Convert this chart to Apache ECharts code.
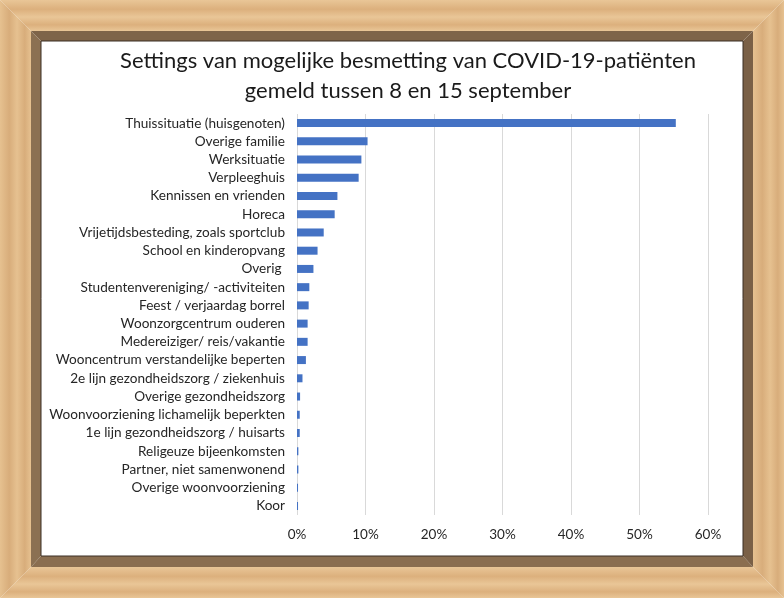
<!DOCTYPE html>
<html><head><meta charset="utf-8">
<script src="https://cdn.jsdelivr.net/npm/echarts@6/dist/echarts.min.js"></script>
<style>html,body{margin:0;padding:0;background:#fff}#c{width:784px;height:598px}</style>
</head><body><div id="c"></div>
<script>
const categories = [
  "Thuissituatie (huisgenoten)","Overige familie","Werksituatie","Verpleeghuis",
  "Kennissen en vrienden","Horeca","Vrijetijdsbesteding, zoals sportclub",
  "School en kinderopvang","Overig ","Studentenvereniging/ -activiteiten",
  "Feest / verjaardag borrel","Woonzorgcentrum ouderen","Medereiziger/ reis/vakantie",
  "Wooncentrum verstandelijke beperten","2e lijn gezondheidszorg / ziekenhuis",
  "Overige gezondheidszorg","Woonvoorziening lichamelijk beperkten",
  "1e lijn gezondheidszorg / huisarts","Religeuze bijeenkomsten",
  "Partner, niet samenwonend","Overige woonvoorziening","Koor"
];
const values = [55.3,10.3,9.4,9.0,5.9,5.5,3.9,3.0,2.4,1.8,1.7,1.55,1.55,1.3,0.8,0.45,0.4,0.4,0.2,0.2,0.15,0.15];
const titleLines = ["Settings van mogelijke besmetting van COVID-19-patiënten","gemeld tussen 8 en 15 september"];

const W = 784, H = 598;
const o = 31, d = 41;
function wood(points, c1, c2, horiz){
  return {type:'polygon', shape:{points}, style:{fill:{type:'linear', x:0,y:0,x2:horiz?1:0,y2:horiz?0:1,
    colorStops:[{offset:0,color:c1},{offset:0.3,color:c2},{offset:0.55,color:c1},{offset:0.8,color:c2},{offset:1,color:c1}]}}, silent:true, z:-10};
}
const frame = [
  wood([[0,0],[W,0],[W-o,o],[o,o]], '#e9c697', '#dcb07d', false),
  wood([[0,H],[W,H],[W-o,H-o],[o,H-o]], '#e9c697', '#dcb07d', false),
  wood([[0,0],[o,o],[o,H-o],[0,H]], '#e6c190', '#d8ad7b', true),
  wood([[W,0],[W-o,o],[W-o,H-o],[W,H]], '#e6c190', '#d8ad7b', true),
  {type:'polygon', shape:{points:[[o,o],[W-o,o],[W-d,d],[d,d]]}, style:{fill:'#7e6449'}, silent:true, z:-9},
  {type:'polygon', shape:{points:[[o,H-o],[W-o,H-o],[W-d,H-d-1],[d,H-d-1]]}, style:{fill:'#8a6e50'}, silent:true, z:-9},
  {type:'polygon', shape:{points:[[o,o],[d,d],[d,H-d-1],[o,H-o]]}, style:{fill:'#8b7052'}, silent:true, z:-9},
  {type:'polygon', shape:{points:[[W-o,o],[W-d,d],[W-d,H-d-1],[W-o,H-o]]}, style:{fill:'#7a6046'}, silent:true, z:-9},
  {type:'rect', shape:{x:d,y:d,width:W-2*d,height:H-2*d-1}, style:{fill:'#ffffff', stroke:'#3b2f24', lineWidth:1}, silent:true, z:-8}
];

const chart = echarts.init(document.getElementById('c'), null, {renderer:'canvas'});
chart.setOption({
  animation:false,
  backgroundColor:'#ffffff',
  graphic: frame.concat([
    {type:'text', x:408, y:46, style:{text:titleLines.join('\n'), fill:'#1a1a1a', font:'22px Lato', textAlign:'center', lineHeight:30}, z:10}
  ]),
  grid:{left:297, right:76, top:114, bottom:83, containLabel:false},
  xAxis:{type:'value', min:0, max:60, interval:10,
    axisLabel:{formatter:'{value}%', color:'#262626', fontFamily:'Lato', fontSize:13.5, margin:13},
    splitLine:{lineStyle:{color:'#d9d9d9', width:1}},
    axisLine:{show:false}, axisTick:{show:false}},
  yAxis:{type:'category', data:categories, inverse:true,
    axisLabel:{color:'#262626', fontFamily:'Lato', fontSize:13.6, margin:12},
    axisLine:{show:false}, axisTick:{show:false}},
  series:[{type:'bar', data:values, barWidth:8, itemStyle:{color:'#4472c4'}}]
});
</script></body></html>
